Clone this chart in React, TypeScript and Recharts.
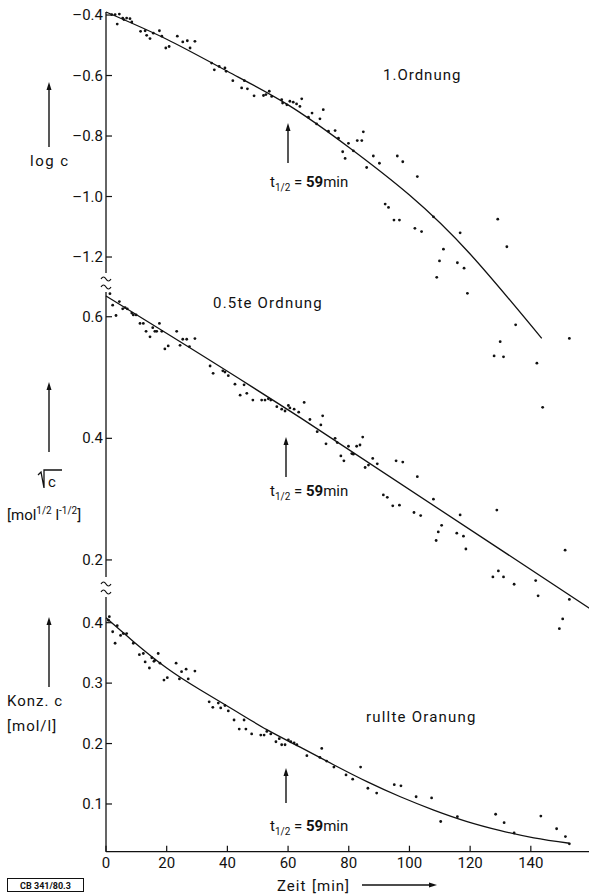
import React from "react";
import { ComposedChart, Scatter, Line, XAxis, YAxis, ReferenceLine } from "recharts";

// time axis (min)
const timeTicks = [0, 20, 40, 60, 80, 100, 120, 140];
const timeDomain: [number, number] = [0, 159.5];

// 1. Ordnung: log c
const logTicks = [-1.2, -1.0, -0.8, -0.6, -0.4];
const logDots: [number, number][] = [
  [1.9, -0.399], [3.0, -0.399], [3.7, -0.43], [4.4, -0.397], [5.5, -0.41], [5.9, -0.415],
  [6.8, -0.41], [7.9, -0.412], [8.5, -0.423], [11.4, -0.454], [12.9, -0.452], [13.4, -0.467],
  [14.5, -0.478], [15.6, -0.46], [17.6, -0.452], [18.4, -0.47], [19.7, -0.509], [20.8, -0.504],
  [23.5, -0.47], [25.3, -0.489], [26.8, -0.485], [27.7, -0.509], [29.3, -0.487], [34.8, -0.559],
  [35.7, -0.581], [37.3, -0.57], [39.2, -0.575], [39.6, -0.586], [41.8, -0.617], [44.7, -0.641],
  [45.6, -0.617], [46.6, -0.644], [48.8, -0.667], [51.9, -0.666], [52.7, -0.663], [53.8, -0.652],
  [54.6, -0.669], [57.9, -0.68], [58.2, -0.691], [59.6, -0.697], [60.6, -0.685], [61.7, -0.688],
  [62.8, -0.694], [63.9, -0.702], [64.5, -0.677], [66.7, -0.738], [67.9, -0.724], [69.4, -0.76],
  [70.5, -0.743], [71.6, -0.713], [73.3, -0.784], [75.5, -0.782], [76.6, -0.807], [78.0, -0.852],
  [78.8, -0.874], [79.9, -0.824], [81.5, -0.849], [82.8, -0.815], [84.3, -0.815], [84.8, -0.786],
  [85.9, -0.904], [88.1, -0.866], [90.1, -0.89], [92.0, -1.025], [93.1, -1.036], [94.9, -1.078],
  [96.0, -0.866], [96.7, -1.078], [97.8, -0.885], [101.8, -1.105], [102.6, -0.934], [104.0, -1.116],
  [107.9, -1.067], [109.0, -1.267], [109.9, -1.213], [111.2, -1.174], [115.8, -1.219], [116.7, -1.12],
  [118.0, -1.237], [119.1, -1.32], [127.9, -1.527], [129.1, -1.075], [129.9, -1.48], [131.0, -1.53],
  [132.1, -1.166], [135.0, -1.424], [142.0, -1.551], [143.9, -1.697], [152.7, -1.469],
];
const logFitT = [0, 20, 40, 60, 80, 100, 120, 143.6];
const logFitV = [-0.39, -0.48, -0.586, -0.697, -0.837, -0.995, -1.19, -1.469];

// 0.5te Ordnung: sqrt c
const sqrtTicks = [0.2, 0.4, 0.6];
const sqrtDots: [number, number][] = [
  [1.3, 0.638], [2.2, 0.619], [3.3, 0.602], [4.4, 0.625], [5.5, 0.613], [6.3, 0.615], [7.0, 0.613],
  [8.5, 0.606], [9.0, 0.603], [9.9, 0.603], [11.2, 0.589], [12.3, 0.589], [13.2, 0.576], [14.5, 0.567],
  [15.4, 0.582], [16.1, 0.576], [16.7, 0.576], [17.6, 0.589], [18.4, 0.576], [19.4, 0.547], [20.5, 0.552],
  [23.3, 0.576], [24.4, 0.553], [25.3, 0.563], [26.6, 0.563], [27.5, 0.551], [29.3, 0.564], [34.3, 0.519],
  [35.3, 0.507], [38.5, 0.511], [39.2, 0.509], [40.3, 0.503], [42.5, 0.489], [44.2, 0.471], [45.5, 0.488],
  [46.4, 0.474], [48.4, 0.463], [51.3, 0.463], [52.4, 0.463], [53.5, 0.465], [54.3, 0.463], [56.3, 0.452],
  [57.9, 0.448], [59.0, 0.445], [60.1, 0.454], [60.6, 0.45], [62.0, 0.448], [63.5, 0.443], [65.3, 0.459],
  [67.2, 0.431], [69.6, 0.411], [70.8, 0.422], [71.4, 0.437], [72.5, 0.391], [75.5, 0.4], [76.2, 0.393],
  [77.4, 0.371], [78.4, 0.363], [79.9, 0.387], [81.0, 0.375], [81.5, 0.374], [82.6, 0.387], [83.7, 0.389],
  [84.6, 0.402], [85.4, 0.352], [86.5, 0.356], [87.9, 0.367], [89.4, 0.358], [91.4, 0.307], [92.7, 0.303],
  [94.5, 0.289], [95.6, 0.363], [96.7, 0.29], [97.8, 0.361], [101.5, 0.278], [102.6, 0.337], [103.7, 0.273],
  [107.9, 0.3], [108.8, 0.232], [109.5, 0.246], [110.6, 0.257], [115.6, 0.244], [116.7, 0.274], [117.8, 0.239],
  [118.6, 0.218], [127.5, 0.172], [128.8, 0.282], [129.3, 0.182], [131.0, 0.172], [134.5, 0.16], [141.6, 0.166],
  [142.4, 0.141], [149.4, 0.087], [150.5, 0.103], [151.3, 0.216], [152.7, 0.135],
];
const sqrtFitT = [0, 64, 159.5];
const sqrtFitV = [0.634, 0.434, 0.12];

// nullte Ordnung: Konz. c
const concTicks = [0.1, 0.2, 0.3, 0.4];
const concDots: [number, number][] = [
  [0.8, 0.404], [1.1, 0.41], [2.2, 0.385], [3.0, 0.366], [3.7, 0.395], [4.8, 0.379], [5.7, 0.382],
  [6.8, 0.382], [9.0, 0.366], [11.0, 0.347], [12.3, 0.349], [12.9, 0.335], [14.3, 0.325], [15.1, 0.342],
  [15.8, 0.336], [16.1, 0.338], [17.2, 0.349], [17.8, 0.333], [19.1, 0.305], [20.2, 0.309], [23.1, 0.333],
  [24.2, 0.307], [24.9, 0.319], [26.4, 0.323], [27.1, 0.307], [29.3, 0.32], [34.0, 0.269], [35.2, 0.26],
  [37.0, 0.267], [37.8, 0.259], [39.2, 0.263], [40.3, 0.254], [42.2, 0.239], [43.9, 0.224], [45.5, 0.239],
  [46.1, 0.224], [48.0, 0.216], [51.0, 0.214], [52.1, 0.214], [53.0, 0.22], [54.3, 0.216], [56.0, 0.203],
  [57.1, 0.208], [57.9, 0.198], [59.0, 0.198], [60.1, 0.206], [60.9, 0.203], [62.0, 0.201], [62.9, 0.198],
  [66.2, 0.18], [70.5, 0.177], [71.1, 0.192], [72.7, 0.171], [75.1, 0.161], [79.1, 0.148], [81.3, 0.141],
  [83.9, 0.161], [86.3, 0.126], [89.2, 0.118], [95.0, 0.132], [97.2, 0.13], [102.2, 0.112], [107.3, 0.11],
  [110.3, 0.071], [115.8, 0.079], [128.4, 0.083], [131.2, 0.069], [134.5, 0.052], [143.3, 0.08],
  [148.5, 0.059], [151.4, 0.046], [152.7, 0.034],
];
const concFitT = [0, 9, 20, 31, 42, 53, 64, 75, 86, 97, 108, 119, 130, 141, 152.7];
const concFitV = [0.408, 0.369, 0.325, 0.289, 0.256, 0.223, 0.194, 0.165, 0.137, 0.112, 0.09, 0.071, 0.056, 0.044, 0.035];

const FONT = "Roboto, 'DejaVu Sans', sans-serif";
const INK = "#111";

const toRows = (pairs: [number, number][]) => pairs.map(([t, v]) => ({ t, v }));
const zipRows = (ts: number[], vs: number[]) => ts.map((t, i) => ({ t, v: vs[i] }));

const fmt = (v: number) => (v < 0 ? "\u2013" + Math.abs(v).toFixed(1) : v.toFixed(1));

const YTick = (props: any) => {
  const { x, y, payload } = props;
  return (
    <g>
      <line x1={x} x2={x + 6} y1={y} y2={y} stroke={INK} strokeWidth={1.2} />
      <text x={x - 3} y={y + 5} textAnchor="end" fontSize={15} fontFamily={FONT} fill={INK}>
        {fmt(payload.value)}
      </text>
    </g>
  );
};

const XTick = (props: any) => {
  const { x, y, payload } = props;
  return (
    <g>
      <line x1={x} x2={x} y1={y} y2={y - 6} stroke={INK} strokeWidth={1.2} />
      <text x={x} y={y + 16} textAnchor="middle" fontSize={15} fontFamily={FONT} fill={INK}>
        {payload.value}
      </text>
    </g>
  );
};

const Dot = (props: any) => <circle cx={props.cx} cy={props.cy} r={1.4} fill={INK} />;

type PanelProps = {
  plotTop: number;
  domain: [number, number];
  pxPerUnit: number;
  ticks: number[];
  axisSpan: [number, number];
  dots: { t: number; v: number }[];
  fit: { t: number; v: number }[];
  showX?: boolean;
};

function Panel({ plotTop, domain, pxPerUnit, ticks, axisSpan, dots, fit, showX }: PanelProps) {
  const plotH = (domain[1] - domain[0]) * pxPerUnit;
  const xh = showX ? 40 : 0;
  return (
    <div style={{ position: "absolute", left: 0, top: 0 }}>
      <ComposedChart width={590} height={plotTop + plotH + xh} margin={{ top: plotTop, right: 0, bottom: 0, left: 105 }}>
        <XAxis
          type="number"
          dataKey="t"
          domain={timeDomain}
          ticks={timeTicks}
          interval={0}
          hide={!showX}
          height={40}
          tickSize={0}
          tickMargin={0}
          tickLine={false}
          tick={<XTick />}
          axisLine={{ stroke: INK, strokeWidth: 1.3 }}
        />
        <YAxis
          type="number"
          dataKey="v"
          domain={domain}
          ticks={ticks}
          interval={0}
          width={1}
          tickSize={0}
          tickMargin={0}
          tickLine={false}
          axisLine={false}
          tick={<YTick />}
        />
        <ReferenceLine
          segment={[{ x: 0, y: axisSpan[0] }, { x: 0, y: axisSpan[1] }]}
          stroke={INK}
          strokeWidth={1.3}
        />
        <Line data={fit} dataKey="v" type="natural" dot={false} stroke={INK} strokeWidth={1.3} isAnimationActive={false} />
        <Scatter data={dots} dataKey="v" shape={Dot} isAnimationActive={false} />
      </ComposedChart>
    </div>
  );
}

const UpArrow = ({ x, y1, y2 }: { x: number; y1: number; y2: number }) => (
  <g>
    <line x1={x} x2={x} y1={y1 + 6} y2={y2} stroke={INK} strokeWidth={1.4} />
    <polygon points={`${x - 2.5},${y1 + 8} ${x + 2.5},${y1 + 8} ${x},${y1}`} fill={INK} />
  </g>
);

const Tilde = ({ x, y }: { x: number; y: number }) => (
  <path d={`M${x - 5},${y + 1} q2.5,-4 5,0 t5,0`} fill="none" stroke={INK} strokeWidth={1.2} />
);

const HalfLife = ({ x, y }: { x: number; y: number }) => (
  <text x={x} y={y} fontSize={15} fontFamily={FONT} fill={INK}>
    t<tspan fontSize={10} dy={4}>1/2</tspan>
    <tspan dy={-4}> = </tspan>
    <tspan fontWeight="bold">59</tspan>min
  </text>
);

function Annotations() {
  const txt = { fontFamily: FONT, fill: INK, fontSize: 15 } as const;
  return (
    <svg width={589} height={896} style={{ position: "absolute", left: 0, top: 0 }}>
      <Tilde x={106} y={278} />
      <Tilde x={106} y={286} />
      <Tilde x={106} y={583} />
      <Tilde x={106} y={591} />

      <text x={383} y={80} {...txt} letterSpacing={1}>1.Ordnung</text>
      <text x={213} y={308} {...txt} letterSpacing={1.2}>0.5te  Ordnung</text>
      <text x={366} y={722} {...txt} letterSpacing={1.2}>rullte  Oranung</text>

      <UpArrow x={288} y1={123} y2={163} />
      <HalfLife x={270} y={187} />
      <UpArrow x={286} y1={437} y2={477} />
      <HalfLife x={270} y={496} />
      <UpArrow x={286} y1={768} y2={803} />
      <HalfLife x={270} y={831} />

      <UpArrow x={49} y1={82} y2={147} />
      <text x={30} y={166} {...txt} letterSpacing={1.5}>log c</text>

      <UpArrow x={49} y1={382} y2={452} />
      <path d="M38,475 L41,472 L44,488 L44,470 L62,470" fill="none" stroke={INK} strokeWidth={1.3} />
      <text x={48} y={487} {...txt}>c</text>
      <text x={7} y={520} {...txt}>
        [mol<tspan fontSize={10} dy={-6}>1/2</tspan>
        <tspan dy={6}> l</tspan>
        <tspan fontSize={10} dy={-6}>-1/2</tspan>
        <tspan dy={6}>]</tspan>
      </text>

      <UpArrow x={49} y1={617} y2={687} />
      <text x={7} y={706} {...txt} letterSpacing={1}>Konz. c</text>
      <text x={7} y={731} {...txt} letterSpacing={1}>[mol/l]</text>

      <text x={277} y={891} {...txt} letterSpacing={1}>Zeit</text>
      <text x={312} y={891} {...txt} letterSpacing={1}>[min]</text>
      <line x1={362} x2={432} y1={885} y2={885} stroke={INK} strokeWidth={1.3} />
      <polygon points="437,885 429,882.5 429,887.5" fill={INK} />

      <rect x={7.5} y={878.5} width={76} height={13} fill="none" stroke={INK} strokeWidth={1} />
      <text x={45.5} y={889} textAnchor="middle" fontSize={9} fontWeight="bold" fontFamily={FONT} fill={INK}>
        CB 341/80.3
      </text>
    </svg>
  );
}

export default function App() {
  return (
    <div
      style={{
        position: "absolute",
        left: 0,
        top: 0,
        width: 589,
        height: 896,
        overflow: "hidden",
        background: "#fff",
      }}
    >
      <Panel
        plotTop={12}
        domain={[-1.75, -0.39]}
        pxPerUnit={302.5}
        ticks={logTicks}
        axisSpan={[-0.39, -1.253]}
        dots={toRows(logDots)}
        fit={zipRows(logFitT, logFitV)}
      />
      <Panel
        plotTop={290.6}
        domain={[0.08, 0.643]}
        pxPerUnit={608}
        ticks={sqrtTicks}
        axisSpan={[0.6406, 0.172]}
        dots={toRows(sqrtDots)}
        fit={zipRows(sqrtFitT, sqrtFitV)}
      />
      <Panel
        plotTop={594.9}
        domain={[0.021, 0.446]}
        pxPerUnit={604.3}
        ticks={concTicks}
        axisSpan={[0.4425, 0.021]}
        dots={toRows(concDots)}
        fit={zipRows(concFitT, concFitV)}
        showX
      />
      <Annotations />
    </div>
  );
}
